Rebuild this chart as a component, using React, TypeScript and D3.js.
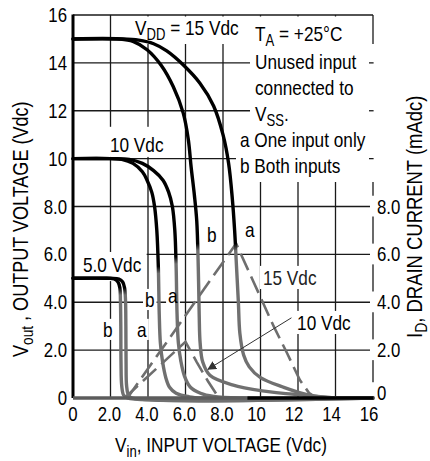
import React, { useEffect, useRef } from 'react';
import * as d3 from 'd3';

const W = 430;
const H = 461;
const FONT = "'Liberation Sans', Arial, sans-serif";
const NARROW = 0.82;

// Axis ticks
const xTicks = [0, 2, 4, 6, 8, 10, 12, 14, 16];
const xTickLabels = ['0', '2.0', '4.0', '6.0', '8.0', '10', '12', '14', '16'];
const yTicks = [0, 2, 4, 6, 8, 10, 12, 14, 16];
const yTickLabels = ['0', '2.0', '4.0', '6.0', '8.0', '10', '12', '14', '16'];
const idTicks = [0, 2, 4, 6, 8];
const idTickLabels = ['0', '2.0', '4.0', '6.0', '8.0'];

// Output voltage transfer curves (Vin, Vout)
const vout5b: [number, number][] = [[0, 5], [1.8, 5], [2.2, 4.97], [2.4, 4.85], [2.5, 4.6], [2.53, 4.1], [2.55, 3.0], [2.56, 1.5], [2.6, 0.5], [2.7, 0.12], [2.9, 0], [16, 0]];
const vout5a: [number, number][] = [[0, 5], [2.0, 5], [2.45, 4.97], [2.65, 4.85], [2.75, 4.6], [2.8, 4.1], [2.82, 3.0], [2.83, 1.5], [2.86, 0.5], [2.96, 0.12], [3.15, 0], [16, 0]];
const vout10b: [number, number][] = [[0, 10], [2.0, 10], [2.6, 9.97], [3.2, 9.8], [3.7, 9.45], [3.95, 9.1], [4.2, 8.6], [4.35, 8.0], [4.47, 7.0], [4.55, 5.5], [4.6, 3.5], [4.66, 2.3], [4.78, 1.5], [4.95, 0.85], [5.15, 0.45], [5.5, 0.2], [6.2, 0.05], [7, 0], [16, 0]];
const vout10a: [number, number][] = [[0, 10], [2.0, 10], [3.0, 9.97], [3.7, 9.8], [4.3, 9.5], [4.8, 9.1], [5.1, 8.6], [5.3, 8.0], [5.43, 7.0], [5.5, 5.5], [5.55, 3.5], [5.62, 2.3], [5.75, 1.55], [5.95, 0.9], [6.25, 0.46], [6.8, 0.2], [7.5, 0.07], [9, 0], [16, 0]];
const vout15b: [number, number][] = [[0, 15], [2.5, 15], [3.2, 14.9], [3.95, 14.55], [4.7, 13.9], [5.35, 13.0], [5.88, 11.9], [6.15, 10.8], [6.3, 9.65], [6.47, 8.5], [6.6, 7.4], [6.68, 5.5], [6.73, 3.5], [6.78, 2.3], [6.92, 1.5], [7.3, 0.95], [8.5, 0.55], [10.1, 0.3], [12.6, 0.1], [14, 0], [16, 0]];
const vout15a: [number, number][] = [[0, 15], [2.5, 15], [3.5, 14.95], [4.3, 14.8], [5.0, 14.5], [5.9, 13.9], [6.77, 13.15], [7.5, 12.2], [8.0, 11.0], [8.3, 9.8], [8.5, 8.3], [8.62, 7.0], [8.72, 5.5], [8.82, 4.0], [8.9, 2.7], [9.1, 1.8], [9.4, 1.3], [10.0, 0.85], [11.2, 0.46], [12.6, 0.12], [14, 0], [16, 0]];

// Drain current curves (Vin, ID mAdc)
const id15: [number, number][] = [[2.9, 0], [8.7, 6.45], [9.6, 4.9], [10.7, 3.0], [11.4, 1.9], [12.1, 0.75], [12.6, 0.2], [13.0, 0]];
const id10: [number, number][] = [[2.75, 0], [6.0, 2.35], [6.6, 1.5], [7.2, 0.7], [7.7, 0.1], [7.9, 0]];

const voutSeries = [
  { key: 'v5b', pts: vout5b, fade: 4.45 },
  { key: 'v5a', pts: vout5a, fade: 4.45 },
  { key: 'v10b', pts: vout10b, fade: 5.35 },
  { key: 'v10a', pts: vout10a, fade: 5.75 },
  { key: 'v15b', pts: vout15b, fade: 6.3 },
  { key: 'v15a', pts: vout15a, fade: 6.3 },
];
const idSeries = [id15, id10];

type Part = { t: string; sub?: boolean };

export default function App() {
  const ref = useRef<SVGSVGElement>(null);

  useEffect(() => {
    const svg = d3.select(ref.current as SVGSVGElement);
    svg.selectAll('*').remove();

    const x = d3.scaleLinear().domain([0, 16]).range([73, 373]);
    const y = d3.scaleLinear().domain([0, 16]).range([398, 15]);

    const defs = svg.append('defs');
    const gGrid = svg.append('g');
    const gBg = svg.append('g');
    const gCurves = svg.append('g');
    const gAxes = svg.append('g');
    const gText = svg.append('g').attr('font-family', FONT).attr('fill', '#000');

    // grid
    const gridCol = '#1a1a1a';
    xTicks.filter((v) => v > 0 && v < 16).forEach((v) => {
      gGrid.append('line').attr('x1', x(v)).attr('x2', x(v)).attr('y1', y(16)).attr('y2', y(0))
        .attr('stroke', gridCol).attr('stroke-width', 1.3);
    });
    yTicks.filter((v) => v > 0 && v < 16).forEach((v) => {
      gGrid.append('line').attr('x1', x(0)).attr('x2', x(16)).attr('y1', y(v)).attr('y2', y(v))
        .attr('stroke', gridCol).attr('stroke-width', 1.3);
    });
    gGrid.append('line').attr('x1', x(0)).attr('x2', x(16)).attr('y1', y(16)).attr('y2', y(16))
      .attr('stroke', gridCol).attr('stroke-width', 1.3);
    gGrid.append('line').attr('x1', x(16)).attr('x2', x(16)).attr('y1', y(16)).attr('y2', y(0))
      .attr('stroke', gridCol).attr('stroke-width', 1.3);

    // white blocks behind header text and legend
    gBg.append('rect').attr('x', 132).attr('y', y(16) + 1.5).attr('width', 239).attr('height', 27.5).attr('fill', '#fff');
    gBg.append('rect').attr('x', 250).attr('y', 44).attr('width', 125).attr('height', 138).attr('fill', '#fff');
    gBg.append('rect').attr('x', 236).attr('y', 122).attr('width', 139).attr('height', 60).attr('fill', '#fff');
    [14, 12, 10].forEach((v) => {
      gAxes.append('line').attr('x1', x(16) - 4).attr('x2', x(16) + 0.6).attr('y1', y(v)).attr('y2', y(v))
        .attr('stroke', gridCol).attr('stroke-width', 1.3);
    });

    // drain-current dashed curves
    const lineLin = d3.line<[number, number]>().x((d) => x(d[0])).y((d) => y(d[1]));
    idSeries.forEach((pts) => {
      gCurves.append('path').attr('d', lineLin(pts) as string).attr('fill', 'none')
        .attr('stroke', '#6e6e6e').attr('stroke-width', 2.6).attr('stroke-dasharray', '18,7')
        .attr('stroke-linejoin', 'miter');
    });

    // output voltage curves
    const lineSmooth = d3.line<[number, number]>().x((d) => x(d[0])).y((d) => y(d[1]))
      .curve(d3.curveCatmullRom.alpha(0.5));
    voutSeries.forEach((s) => {
      const gid = `grad-${s.key}`;
      const grad = defs.append('linearGradient').attr('id', gid).attr('gradientUnits', 'userSpaceOnUse')
        .attr('x1', 0).attr('x2', 0).attr('y1', y(s.fade + 0.15)).attr('y2', y(s.fade - 0.15));
      grad.append('stop').attr('offset', 0).attr('stop-color', '#000');
      grad.append('stop').attr('offset', 1).attr('stop-color', '#707070');
      gCurves.append('path').attr('d', lineSmooth(s.pts) as string).attr('fill', 'none')
        .attr('stroke', `url(#${gid})`).attr('stroke-width', 3.4)
        .attr('stroke-linejoin', 'round').attr('stroke-linecap', 'round');
    });

    // main axes
    gAxes.append('line').attr('x1', x(0)).attr('x2', x(0)).attr('y1', y(16) - 0.6).attr('y2', y(0))
      .attr('stroke', '#000').attr('stroke-width', 3);
    gAxes.append('line').attr('x1', x(0)).attr('x2', x(9.3)).attr('y1', y(0)).attr('y2', y(0))
      .attr('stroke', '#5c5c5c').attr('stroke-width', 3.5);
    gAxes.append('line').attr('x1', x(9.3)).attr('x2', x(16) + 0.6).attr('y1', y(0)).attr('y2', y(0))
      .attr('stroke', '#000').attr('stroke-width', 3.5);

    // text helper (condensed sans imitated with a horizontal scale)
    const FS = 21;
    const addText = (
      px: number, py: number, parts: Part[],
      opts: { size?: number; anchor?: string; bg?: [number, number, number, number]; fill?: string; rotate?: boolean } = {},
    ) => {
      const size = opts.size ?? FS;
      const t = gText.append('text').attr('x', 0).attr('y', 0).attr('font-size', size)
        .attr('text-anchor', opts.anchor ?? 'start')
        .attr('transform', `translate(${px},${py})${opts.rotate ? ' rotate(-90)' : ''} scale(${NARROW},1)`);
      if (opts.fill) t.attr('fill', opts.fill);
      let shifted = false;
      parts.forEach((p) => {
        const ts = t.append('tspan').text(p.t);
        if (p.sub && !shifted) { ts.attr('dy', size * 0.24).attr('font-size', size * 0.76); shifted = true; }
        else if (!p.sub && shifted) { ts.attr('dy', -size * 0.24); shifted = false; }
        else if (p.sub) ts.attr('font-size', size * 0.76);
      });
      if (opts.bg) {
        const bb = (t.node() as SVGTextElement).getBBox();
        const cap = size * 0.72;
        const [l, r, tp, bt] = opts.bg;
        gBg.append('rect').attr('x', px + bb.x * NARROW - l).attr('y', py - cap - tp)
          .attr('width', bb.width * NARROW + l + r).attr('height', cap + tp + bt).attr('fill', '#fff');
      }
      return t;
    };

    // tick labels
    const TS = 20.5;
    yTicks.forEach((v, i) => {
      addText(67, y(v) + 7, [{ t: yTickLabels[i] }], { size: TS, anchor: 'end' });
    });
    xTicks.forEach((v, i) => {
      const off = v === 0 ? 0 : v >= 10 ? -4 : -1;
      addText(x(v) + off, 421, [{ t: xTickLabels[i] }], { size: TS, anchor: 'middle' });
    });
    idTicks.forEach((v, i) => {
      const by = v === 0 ? y(v) + 2 : y(v) + 7;
      addText(377, by, [{ t: idTickLabels[i] }], { size: TS, bg: [7, 2, 3, 3] });
    });

    // axis titles
    addText(115, 452, [{ t: 'V' }, { t: 'in', sub: true }, { t: ', INPUT VOLTAGE (Vdc)' }], {});
    addText(28, 357, [{ t: 'V' }, { t: 'out', sub: true }, { t: ' , OUTPUT VOLTAGE (Vdc)' }], { rotate: true, size: 22 });
    addText(422, 338, [{ t: 'I' }, { t: 'D', sub: true }, { t: ', DRAIN CURRENT (mAdc)' }], { rotate: true, size: 22.5 });

    // header and legend
    addText(135, 35, [{ t: 'V' }, { t: 'DD', sub: true }, { t: ' = 15 Vdc' }], {});
    addText(255, 41, [{ t: 'T' }, { t: 'A', sub: true }, { t: ' = +25°C' }], {});
    addText(255, 69, [{ t: 'Unused input' }], {});
    addText(255, 95, [{ t: 'connected to' }], {});
    addText(255, 121, [{ t: 'V' }, { t: 'SS', sub: true }, { t: '.' }], {});
    addText(240, 147, [{ t: 'a One input only' }], {});
    addText(240, 173, [{ t: 'b Both inputs' }], {});

    // curve labels
    addText(x(1.97), y(10.28), [{ t: '10 Vdc' }], { bg: [5, 5, 10, 5] });
    addText(x(0.53), y(5.26), [{ t: '5.0 Vdc' }], { bg: [9, 5, 5, 9] });
    addText(x(10.13), y(4.72), [{ t: '15 Vdc' }], { bg: [3, 3, 4, 4], fill: '#222' });
    addText(x(11.95), y(2.84), [{ t: '10 Vdc' }], { bg: [3, 3, 4, 4] });
    const ab = [
      { t: 'b', vx: 7.15, vy: 6.52 },
      { t: 'a', vx: 9.17, vy: 6.73 },
      { t: 'b', vx: 3.84, vy: 3.8 },
      { t: 'a', vx: 5.07, vy: 3.97 },
      { t: 'b', vx: 1.6, vy: 2.55 },
      { t: 'a', vx: 3.41, vy: 2.55 },
    ];
    ab.forEach((d) => addText(x(d.vx), y(d.vy), [{ t: d.t }], { bg: [2, 2, 3, 3] }));

    // leader arrow for the 10 Vdc drain current
    defs.append('marker').attr('id', 'arrow').attr('viewBox', '0 0 10 10').attr('refX', 9).attr('refY', 5)
      .attr('markerWidth', 9).attr('markerHeight', 9).attr('markerUnits', 'userSpaceOnUse').attr('orient', 'auto')
      .append('path').attr('d', 'M0,0 L10,5 L0,10 z').attr('fill', '#333');
    gText.append('line').attr('x1', x(11.65)).attr('y1', y(3.35)).attr('x2', x(7.2)).attr('y2', y(1.2))
      .attr('stroke', '#333').attr('stroke-width', 1).attr('marker-end', 'url(#arrow)');
  }, []);

  return (
    <svg ref={ref} width={W} height={H}
      style={{ position: 'absolute', left: 0, top: 0, background: '#fff', display: 'block' }} />
  );
}
